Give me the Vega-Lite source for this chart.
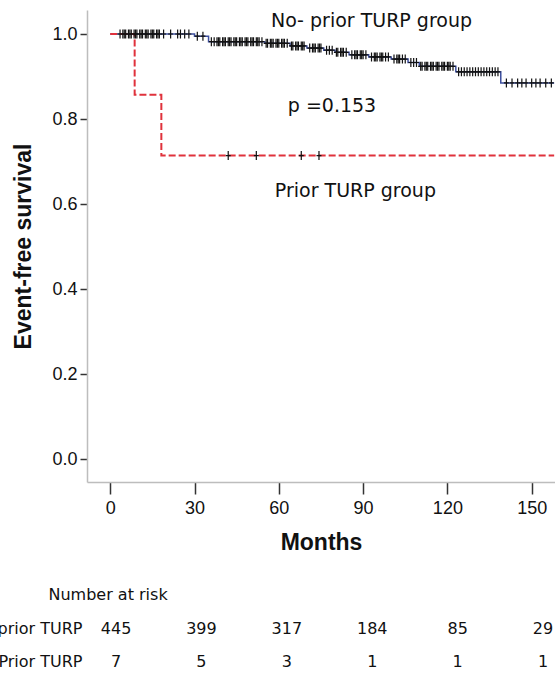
{
  "$schema": "https://vega.github.io/schema/vega-lite/v6.json",
  "autosize": {"type": "none"},
  "padding": {"left": 87, "top": 10, "right": 0, "bottom": 0},
  "background": "white",
  "width": 468,
  "height": 666,
  "config": {"view": {"stroke": null}},
  "resolve": {"scale": {"x": "independent", "y": "independent"}},
  "layer": [
    {
      "encoding": {
        "x": {
          "field": "t", "type": "quantitative",
          "scale": {"domain": [-8.26, 158.3], "nice": false, "zero": false},
          "axis": {
            "values": [0, 30, 60, 90, 120, 150], "grid": false, "offset": -194,
            "domainColor": "#bdbdbd", "domainWidth": 1.5,
            "tickColor": "#333", "tickWidth": 1.5, "tickSize": 12,
            "labelFont": "Liberation Sans", "labelFontSize": 18, "labelColor": "#111",
            "labelPadding": 5, "labelFlush": false, "labelOverlap": false,
            "title": "Months", "titleFont": "Liberation Sans", "titleFontSize": 23,
            "titleFontWeight": "bold", "titleColor": "#111",
            "titleY": 67, "titleBaseline": "alphabetic"
          }
        },
        "y": {
          "field": "s", "type": "quantitative",
          "scale": {"domain": [-0.054, 1.0565], "range": [472, 0], "nice": false, "zero": false},
          "axis": {
            "values": [0, 0.2, 0.4, 0.6, 0.8, 1.0], "format": ".1f", "grid": false,
            "domainColor": "#bdbdbd", "domainWidth": 1.5,
            "tickColor": "#333", "tickWidth": 1.5, "tickSize": 7,
            "labelFont": "Liberation Sans", "labelFontSize": 18, "labelColor": "#111",
            "labelPadding": 3, "labelFlush": false, "labelOverlap": false,
            "title": "Event-free survival", "titleFont": "Liberation Sans", "titleFontSize": 23,
            "titleFontWeight": "bold", "titleColor": "#111",
            "titleX": -64, "titleY": 236, "titleBaseline": "middle"
          }
        }
      },
      "layer": [
        {
          "data": {"values": [
            {"t": 0, "s": 1.0}, {"t": 30, "s": 0.995}, {"t": 35, "s": 0.982},
            {"t": 55, "s": 0.978}, {"t": 64, "s": 0.972}, {"t": 70, "s": 0.967},
            {"t": 76, "s": 0.962}, {"t": 80, "s": 0.957}, {"t": 85, "s": 0.951},
            {"t": 92, "s": 0.946}, {"t": 100, "s": 0.941}, {"t": 106, "s": 0.933},
            {"t": 110, "s": 0.924}, {"t": 123, "s": 0.911}, {"t": 139, "s": 0.885},
            {"t": 158, "s": 0.885}
          ]},
          "mark": {"type": "line", "interpolate": "step-after", "color": "#3d4f9f", "strokeWidth": 1.5}
        },
        {
          "data": {"values": [
            {"t": 0, "s": 1.0}, {"t": 8.7, "s": 0.857}, {"t": 18.2, "s": 0.714}, {"t": 158, "s": 0.714}
          ]},
          "mark": {"type": "line", "interpolate": "step-after", "color": "#e0323c", "strokeWidth": 2, "strokeDash": [7, 3]}
        },
        {
          "data": {"values": [
            {"t": 3.5, "s": 1.0}, {"t": 4.5, "s": 1.0}, {"t": 5, "s": 1.0}, {"t": 5.5, "s": 1.0},
            {"t": 6.5, "s": 1.0}, {"t": 7, "s": 1.0}, {"t": 7.5, "s": 1.0}, {"t": 8.5, "s": 1.0},
            {"t": 9, "s": 1.0}, {"t": 9.5, "s": 1.0}, {"t": 10.5, "s": 1.0}, {"t": 11, "s": 1.0},
            {"t": 11.5, "s": 1.0}, {"t": 12.5, "s": 1.0}, {"t": 13, "s": 1.0}, {"t": 13.5, "s": 1.0},
            {"t": 14.5, "s": 1.0}, {"t": 15, "s": 1.0}, {"t": 15.5, "s": 1.0}, {"t": 16.5, "s": 1.0},
            {"t": 17, "s": 1.0}, {"t": 17.5, "s": 1.0}, {"t": 19, "s": 1.0}, {"t": 21.5, "s": 1.0},
            {"t": 24, "s": 1.0}, {"t": 25, "s": 1.0}, {"t": 26.5, "s": 1.0}, {"t": 28, "s": 1.0},
            {"t": 31, "s": 0.995}, {"t": 33, "s": 0.995},
            {"t": 36, "s": 0.982}, {"t": 37, "s": 0.982}, {"t": 38, "s": 0.982}, {"t": 38.5, "s": 0.982},
            {"t": 39, "s": 0.982}, {"t": 40, "s": 0.982}, {"t": 40.5, "s": 0.982}, {"t": 41, "s": 0.982},
            {"t": 42, "s": 0.982}, {"t": 42.5, "s": 0.982}, {"t": 43, "s": 0.982}, {"t": 44, "s": 0.982},
            {"t": 44.5, "s": 0.982}, {"t": 45, "s": 0.982}, {"t": 46, "s": 0.982}, {"t": 46.5, "s": 0.982},
            {"t": 47, "s": 0.982}, {"t": 48, "s": 0.982}, {"t": 48.5, "s": 0.982}, {"t": 49, "s": 0.982},
            {"t": 50, "s": 0.982}, {"t": 50.5, "s": 0.982}, {"t": 51, "s": 0.982}, {"t": 52, "s": 0.982},
            {"t": 52.5, "s": 0.982}, {"t": 53, "s": 0.982}, {"t": 54, "s": 0.982},
            {"t": 55.5, "s": 0.978}, {"t": 56, "s": 0.978}, {"t": 57, "s": 0.978}, {"t": 57.5, "s": 0.978},
            {"t": 58, "s": 0.978}, {"t": 59, "s": 0.978}, {"t": 59.5, "s": 0.978}, {"t": 60, "s": 0.978},
            {"t": 61, "s": 0.978}, {"t": 61.5, "s": 0.978}, {"t": 62, "s": 0.978}, {"t": 63, "s": 0.978},
            {"t": 64.5, "s": 0.972}, {"t": 65, "s": 0.972}, {"t": 66, "s": 0.972}, {"t": 66.5, "s": 0.972},
            {"t": 67, "s": 0.972}, {"t": 68, "s": 0.972}, {"t": 68.5, "s": 0.972}, {"t": 69, "s": 0.972},
            {"t": 71, "s": 0.967}, {"t": 72, "s": 0.967}, {"t": 72.5, "s": 0.967}, {"t": 73, "s": 0.967},
            {"t": 74, "s": 0.967}, {"t": 74.5, "s": 0.967}, {"t": 75, "s": 0.967},
            {"t": 77, "s": 0.962}, {"t": 78, "s": 0.962}, {"t": 79, "s": 0.962},
            {"t": 80.5, "s": 0.957}, {"t": 81, "s": 0.957}, {"t": 82, "s": 0.957}, {"t": 82.5, "s": 0.957},
            {"t": 83, "s": 0.957}, {"t": 84, "s": 0.957},
            {"t": 86, "s": 0.951}, {"t": 87, "s": 0.951}, {"t": 87.5, "s": 0.951}, {"t": 88, "s": 0.951},
            {"t": 89, "s": 0.951}, {"t": 89.5, "s": 0.951}, {"t": 90, "s": 0.951}, {"t": 91, "s": 0.951},
            {"t": 93, "s": 0.946}, {"t": 94, "s": 0.946}, {"t": 94.5, "s": 0.946}, {"t": 95, "s": 0.946},
            {"t": 96, "s": 0.946}, {"t": 96.5, "s": 0.946}, {"t": 97, "s": 0.946}, {"t": 98, "s": 0.946},
            {"t": 99, "s": 0.946},
            {"t": 101, "s": 0.941}, {"t": 102, "s": 0.941}, {"t": 102.5, "s": 0.941}, {"t": 103, "s": 0.941},
            {"t": 104, "s": 0.941}, {"t": 105, "s": 0.941},
            {"t": 107, "s": 0.933}, {"t": 108, "s": 0.933}, {"t": 109, "s": 0.933},
            {"t": 110.5, "s": 0.924}, {"t": 111, "s": 0.924}, {"t": 112, "s": 0.924}, {"t": 112.5, "s": 0.924},
            {"t": 113, "s": 0.924}, {"t": 114, "s": 0.924}, {"t": 114.5, "s": 0.924}, {"t": 115, "s": 0.924},
            {"t": 116, "s": 0.924}, {"t": 116.5, "s": 0.924}, {"t": 117, "s": 0.924}, {"t": 118, "s": 0.924},
            {"t": 118.5, "s": 0.924}, {"t": 119, "s": 0.924}, {"t": 120, "s": 0.924}, {"t": 120.5, "s": 0.924},
            {"t": 121, "s": 0.924}, {"t": 122, "s": 0.924},
            {"t": 124, "s": 0.911}, {"t": 125, "s": 0.911}, {"t": 126, "s": 0.911}, {"t": 127, "s": 0.911},
            {"t": 128, "s": 0.911}, {"t": 129, "s": 0.911}, {"t": 130, "s": 0.911}, {"t": 131, "s": 0.911},
            {"t": 132, "s": 0.911}, {"t": 133, "s": 0.911}, {"t": 134, "s": 0.911}, {"t": 135, "s": 0.911},
            {"t": 136, "s": 0.911}, {"t": 137, "s": 0.911}, {"t": 138, "s": 0.911},
            {"t": 141, "s": 0.885}, {"t": 143, "s": 0.885}, {"t": 145, "s": 0.885}, {"t": 146.5, "s": 0.885},
            {"t": 148, "s": 0.885}, {"t": 150, "s": 0.885}, {"t": 151.5, "s": 0.885}, {"t": 153, "s": 0.885},
            {"t": 155, "s": 0.885}, {"t": 157, "s": 0.885},
            {"t": 42, "s": 0.714}, {"t": 52, "s": 0.714}, {"t": 68, "s": 0.714}, {"t": 74.3, "s": 0.714}
          ]},
          "mark": {"type": "point", "shape": "M-0.55,0H0.55M0,-1V1", "size": 81, "filled": false, "stroke": "#111", "strokeWidth": 1.2, "opacity": 1}
        },
        {
          "data": {"values": [
            {"t": 57.2, "s": 1.017, "label": "No- prior TURP group"},
            {"t": 63.2, "s": 0.817, "label": "p =0.153"},
            {"t": 58.6, "s": 0.617, "label": "Prior TURP group"}
          ]},
          "mark": {"type": "text", "align": "left", "baseline": "alphabetic", "font": "DejaVu Sans", "fontSize": 19, "color": "#111"},
          "encoding": {"text": {"field": "label"}}
        }
      ]
    },
    {
      "data": {"values": [
        {"g": "No-prior TURP", "t": 0, "n": "445"}, {"g": "No-prior TURP", "t": 30, "n": "399"},
        {"g": "No-prior TURP", "t": 60, "n": "317"}, {"g": "No-prior TURP", "t": 90, "n": "184"},
        {"g": "No-prior TURP", "t": 120, "n": "85"}, {"g": "No-prior TURP", "t": 150, "n": "29"},
        {"g": "Prior TURP", "t": 0, "n": "7"}, {"g": "Prior TURP", "t": 30, "n": "5"},
        {"g": "Prior TURP", "t": 60, "n": "3"}, {"g": "Prior TURP", "t": 90, "n": "1"},
        {"g": "Prior TURP", "t": 120, "n": "1"}, {"g": "Prior TURP", "t": 150, "n": "1"}
      ]},
      "mark": {"type": "text", "align": "center", "baseline": "middle", "font": "DejaVu Sans", "fontSize": 16, "color": "#111"},
      "encoding": {
        "x": {"field": "t", "type": "quantitative", "scale": {"domain": [-10.2, 154.2], "nice": false, "zero": false}, "axis": null},
        "y": {
          "field": "g", "type": "nominal", "sort": ["No-prior TURP", "Prior TURP"],
          "scale": {"type": "point", "padding": 0.5, "range": [602, 668]},
          "axis": {
            "orient": "left", "domain": false, "ticks": false, "labelPadding": 5,
            "labelFont": "DejaVu Sans", "labelFontSize": 16, "labelColor": "#111", "labelLimit": 0,
            "title": "Number at risk", "titleAngle": 0, "titleAlign": "left", "titleBaseline": "alphabetic",
            "titleX": -39, "titleY": 589, "titleFont": "DejaVu Sans", "titleFontSize": 16,
            "titleFontWeight": "normal", "titleColor": "#111"
          }
        },
        "text": {"field": "n"}
      }
    }
  ]
}
